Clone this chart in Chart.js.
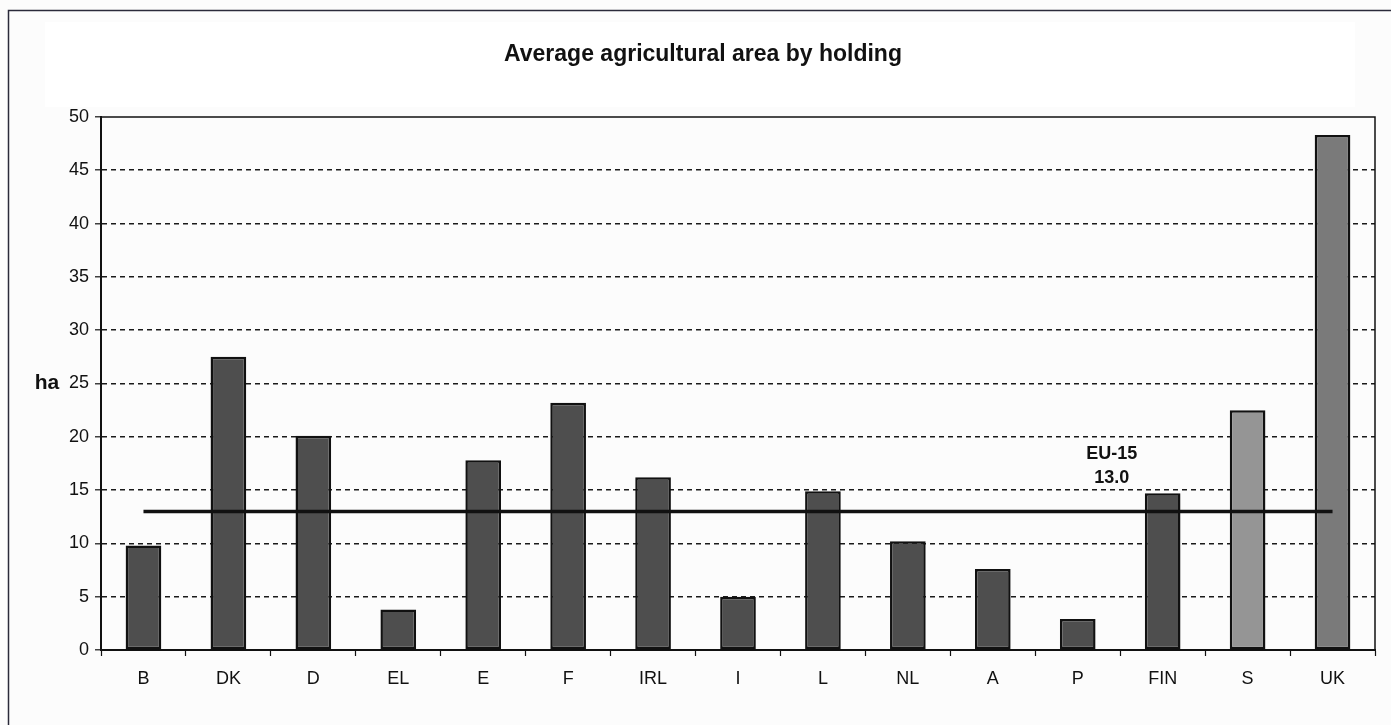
<!DOCTYPE html>
<html>
<head>
<meta charset="utf-8">
<script src="https://cdn.jsdelivr.net/npm/chart.js@4/dist/chart.umd.min.js"></script>
<style>
  html, body { margin: 0; padding: 0; background: #fcfcfc; }
  #wrap { width: 1391px; height: 725px; position: relative; }
  canvas { display: block; }
</style>
</head>
<body>
<div id="wrap"><canvas id="c" width="1391" height="725"></canvas></div>
<script>
const categories = ['B', 'DK', 'D', 'EL', 'E', 'F', 'IRL', 'I', 'L', 'NL', 'A', 'P', 'FIN', 'S', 'UK'];
const areaHa = [9.8, 27.5, 20.1, 3.8, 17.8, 23.2, 16.2, 5.0, 14.9, 10.2, 7.6, 2.9, 14.7, 22.5, 48.3];
const euAverage = 13.0;
const euLabel = ['EU-15', '13.0'];
const yTicks = [0, 5, 10, 15, 20, 25, 30, 35, 40, 45, 50];
const titleText = 'Average agricultural area by holding';
const yUnit = 'ha';

const barColors = categories.map(c => c === 'S' ? '#959595' : (c === 'UK' ? '#7a7a7a' : '#4e4e4e'));
const euLine = categories.map(() => euAverage);

const FONT = '"Liberation Sans", Arial, sans-serif';

const decor = {
  id: 'decor',
  beforeDraw(chart) {
    const ctx = chart.ctx;
    ctx.save();
    ctx.fillStyle = '#fcfcfc';
    ctx.fillRect(0, 0, chart.width, chart.height);
    ctx.fillStyle = '#ffffff';
    ctx.fillRect(45, 22, 1310, 85);
    // outer frame
    ctx.strokeStyle = '#2a2a3a';
    ctx.lineWidth = 1.5;
    ctx.beginPath();
    ctx.moveTo(8.5, 730);
    ctx.lineTo(8.5, 10.5);
    ctx.lineTo(1395, 10.5);
    ctx.stroke();
    ctx.restore();
  },
  afterDatasetsDraw(chart) {
    const ctx = chart.ctx;
    const a = chart.chartArea;
    const xs = chart.scales.x, ys = chart.scales.y;
    ctx.save();
    // plot frame top and right
    ctx.strokeStyle = '#111';
    ctx.lineWidth = 1.5;
    ctx.beginPath();
    ctx.moveTo(a.left, a.top);
    ctx.lineTo(a.right, a.top);
    ctx.lineTo(a.right, a.bottom);
    ctx.stroke();
    // title
    ctx.fillStyle = '#111';
    ctx.font = 'bold 23px ' + FONT;
    ctx.textAlign = 'center';
    ctx.textBaseline = 'middle';
    ctx.fillText(titleText, 703, 55);
    // y unit
    ctx.font = 'bold 21px ' + FONT;
    ctx.fillText(yUnit, 47, ys.getPixelForValue(25));
    // EU label
    const lx = xs.getPixelForValue(11) * 0.6 + xs.getPixelForValue(12) * 0.4;
    const ly = ys.getPixelForValue(euAverage);
    ctx.font = 'bold 18px ' + FONT;
    ctx.fillText(euLabel[0], lx, ly - 57);
    ctx.fillText(euLabel[1], lx, ly - 33);
    ctx.restore();
  }
};

new Chart(document.getElementById('c'), {
  data: {
    labels: categories,
    datasets: [
      {
        type: 'line',
        data: euLine,
        borderColor: '#111',
        borderWidth: 3.5,
        pointRadius: 0,
        fill: false,
        order: 0
      },
      {
        type: 'bar',
        data: areaHa,
        backgroundColor: barColors,
        borderColor: '#111',
        borderWidth: 2.5,
        borderSkipped: false,
        categoryPercentage: 1.0,
        barPercentage: 0.42,
        order: 1
      }
    ]
  },
  options: {
    responsive: false,
    animation: false,
    layout: { padding: { left: 0, top: 117, right: 16, bottom: 0 } },
    plugins: { legend: { display: false }, tooltip: { enabled: false }, title: { display: false } },
    scales: {
      x: {
        offset: true,
        grid: {
          offset: true,
          drawOnChartArea: false,
          drawTicks: true,
          tickLength: 6,
          tickColor: '#111',
          tickWidth: 1.2
        },
        border: { display: true, color: '#111', width: 2 },
        ticks: {
          color: '#111',
          font: { family: FONT, size: 18 },
          padding: 12
        },
        afterFit(s) { s.height = 75; }
      },
      y: {
        min: 0,
        max: 50,
        afterBuildTicks(s) { s.ticks = yTicks.map(v => ({ value: v })); },
        grid: {
          color: (c) => (c.tick && (c.tick.value === 0 || c.tick.value === 50)) ? 'rgba(0,0,0,0)' : '#1a1a1a',
          lineWidth: 1.6,
          drawTicks: true,
          tickLength: 6,
          tickColor: '#111',
          tickWidth: 1.2
        },
        border: { display: true, color: '#111', width: 2, dash: [5, 4] },
        ticks: {
          color: '#111',
          font: { family: FONT, size: 18 },
          padding: 6
        },
        afterFit(s) { s.width = 101; }
      }
    }
  },
  plugins: [decor]
});
</script>
</body>
</html>
